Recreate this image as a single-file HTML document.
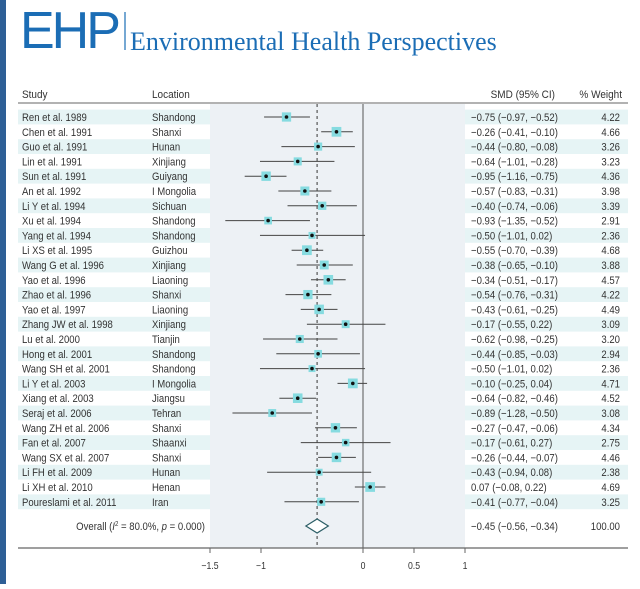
<!DOCTYPE html>
<html><head><meta charset="utf-8">
<style>
body{margin:0;background:#fff;width:640px;height:584px;overflow:hidden;}
svg text{font-family:"Liberation Sans Narrow","Liberation Sans",sans-serif;}
</style></head>
<body>
<svg width="640" height="584" viewBox="0 0 640 584">
<rect x="0" y="0" width="6" height="584" fill="#2e5f96"/>
<text x="20" y="48" font-size="52" fill="#1b6db5" style="font-family:'Liberation Sans',sans-serif;letter-spacing:-3px">EHP</text>
<line x1="125" y1="12" x2="125" y2="50" stroke="#1b6db5" stroke-width="1.2"/>
<text x="130" y="50" font-size="26" fill="#1b6db5" style="font-family:'Liberation Serif',serif">Environmental Health Perspectives</text>
<g id="plot"></g>
</svg>
<script>
const studies=["Ren et al. 1989","Chen et al. 1991","Guo et al. 1991","Lin et al. 1991","Sun et al. 1991","An et al. 1992","Li Y et al. 1994","Xu et al. 1994","Yang et al. 1994","Li XS et al. 1995","Wang G et al. 1996","Yao et al. 1996","Zhao et al. 1996","Yao et al. 1997","Zhang JW et al. 1998","Lu et al. 2000","Hong et al. 2001","Wang SH et al. 2001","Li Y et al. 2003","Xiang et al. 2003","Seraj et al. 2006","Wang ZH et al. 2006","Fan et al. 2007","Wang SX et al. 2007","Li FH et al. 2009","Li XH et al. 2010","Poureslami et al. 2011"];
const locations=["Shandong","Shanxi","Hunan","Xinjiang","Guiyang","I Mongolia","Sichuan","Shandong","Shandong","Guizhou","Xinjiang","Liaoning","Shanxi","Liaoning","Xinjiang","Tianjin","Shandong","Shandong","I Mongolia","Jiangsu","Tehran","Shanxi","Shaanxi","Shanxi","Hunan","Henan","Iran"];
const smd=[-0.75,-0.26,-0.44,-0.64,-0.95,-0.57,-0.40,-0.93,-0.50,-0.55,-0.38,-0.34,-0.54,-0.43,-0.17,-0.62,-0.44,-0.50,-0.10,-0.64,-0.89,-0.27,-0.17,-0.26,-0.43,0.07,-0.41];
const lower=[-0.97,-0.41,-0.80,-1.01,-1.16,-0.83,-0.74,-1.35,-1.01,-0.70,-0.65,-0.51,-0.76,-0.61,-0.55,-0.98,-0.85,-1.01,-0.25,-0.82,-1.28,-0.47,-0.61,-0.44,-0.94,-0.08,-0.77];
const upper=[-0.52,-0.10,-0.08,-0.28,-0.75,-0.31,-0.06,-0.52,0.02,-0.39,-0.10,-0.17,-0.31,-0.25,0.22,-0.25,-0.03,0.02,0.04,-0.46,-0.50,-0.06,0.27,-0.07,0.08,0.22,-0.04];
const weights=[4.22,4.66,3.26,3.23,4.36,3.98,3.39,2.91,2.36,4.68,3.88,4.57,4.22,4.49,3.09,3.20,2.94,2.36,4.71,4.52,3.08,4.34,2.75,4.46,2.38,4.69,3.25];
const overall=[-0.45,-0.56,-0.34];
const ticks=[-1.5,-1,0,0.5,1];
const tickLabels=["\u22121.5","\u22121","0","0.5","1"];

const NS="http://www.w3.org/2000/svg";
const g=document.getElementById('plot');
function X(v){return 363+102*v;}
function Y(i){return 117+14.8*i;}
function fmt(v){return (v<0?"\u2212":"")+Math.abs(v).toFixed(2);}
function mk(t,a){const e=document.createElementNS(NS,t);for(const k in a)e.setAttribute(k,a[k]);g.appendChild(e);return e;}
function txt(x,y,s,opts){const e=mk('text',Object.assign({x:x,y:y,'font-size':11,fill:'#333',transform:`translate(${x},0) scale(0.87,1) translate(${-x},0)`},opts||{}));e.textContent=s;return e;}

const n=studies.length;
let bg=mk('rect',{x:X(-1.5),y:104,width:X(1)-X(-1.5),height:548-104,fill:'#edf1f5'});


for(let i=0;i<n;i++){
 if(i%2===0){
  let s1=mk('rect',{x:18,y:Y(i)-7.4,width:X(-1.5)-18,height:14.8,fill:'#e6f4f5'});
  
  
  let s2=mk('rect',{x:X(1),y:Y(i)-7.4,width:628-X(1),height:14.8,fill:'#e6f4f5'});
  
  
 }
}
let h1=txt(22,98,"Study",{'font-size':11.5});
let h2=txt(152,98,"Location",{'font-size':11.5});
let h3=txt(555,98,"SMD (95% CI)",{'font-size':11.5,'text-anchor':'end'});
let h4=txt(622,98,"% Weight",{'font-size':11.5,'text-anchor':'end'});
let hl=mk('line',{x1:18,y1:103,x2:628,y2:103,stroke:'#666','stroke-width':1});


let zl=mk('line',{x1:X(0),y1:104,x2:X(0),y2:548,stroke:'#555','stroke-width':1});

let dl=mk('line',{x1:X(overall[0]),y1:104,x2:X(overall[0]),y2:548,stroke:'#555','stroke-width':1.2,'stroke-dasharray':'3,3'});


for(let i=0;i<n;i++){
 const y=Y(i);
 let a=txt(22,y+4,studies[i]);
 let b=txt(152,y+4,locations[i]);
 let c=mk('line',{x1:X(lower[i]),y1:y,x2:X(upper[i]),y2:y,stroke:'#444','stroke-width':1});
 
 const s=4.5*Math.sqrt(weights[i]);
 let bx=mk('rect',{x:X(smd[i])-s/2,y:y-s/2,width:s,height:s,fill:'#86dbe0'});
 
 let d=mk('circle',{cx:X(smd[i]),cy:y,r:1.8,fill:'#111'});
 
 let e=txt(471,y+4,fmt(smd[i])+" ("+fmt(lower[i])+", "+fmt(upper[i])+")");
 
 let f=txt(620,y+4,weights[i].toFixed(2),{'text-anchor':'end'});
 
}
const oy=526;
let ot=txt(205,oy+4,"",{'text-anchor':'end'});
ot.innerHTML='Overall (<tspan font-style="italic">I</tspan><tspan font-size="7" dy="-4">2</tspan><tspan dy="4"> = 80.0%, </tspan><tspan font-style="italic">p</tspan> = 0.000)';

let dm=mk('polygon',{points:`${X(overall[1])},${oy} ${X(overall[0])},${oy-7} ${X(overall[2])},${oy} ${X(overall[0])},${oy+7}`,fill:'#fff',stroke:'#2c5e66','stroke-width':1.2});

let ov=txt(471,oy+4,fmt(overall[0])+" ("+fmt(overall[1])+", "+fmt(overall[2])+")");

let ow=txt(620,oy+4,"100.00",{'text-anchor':'end'});


let ax=mk('line',{x1:18,y1:548,x2:628,y2:548,stroke:'#666','stroke-width':1.2});

ticks.forEach((t,i)=>{
 let tk=mk('line',{x1:X(t),y1:548,x2:X(t),y2:553,stroke:'#666','stroke-width':1});
 
 let tl=txt(X(t),569,tickLabels[i],{'text-anchor':'middle','font-size':10});
 
});
</script>
</body></html>
